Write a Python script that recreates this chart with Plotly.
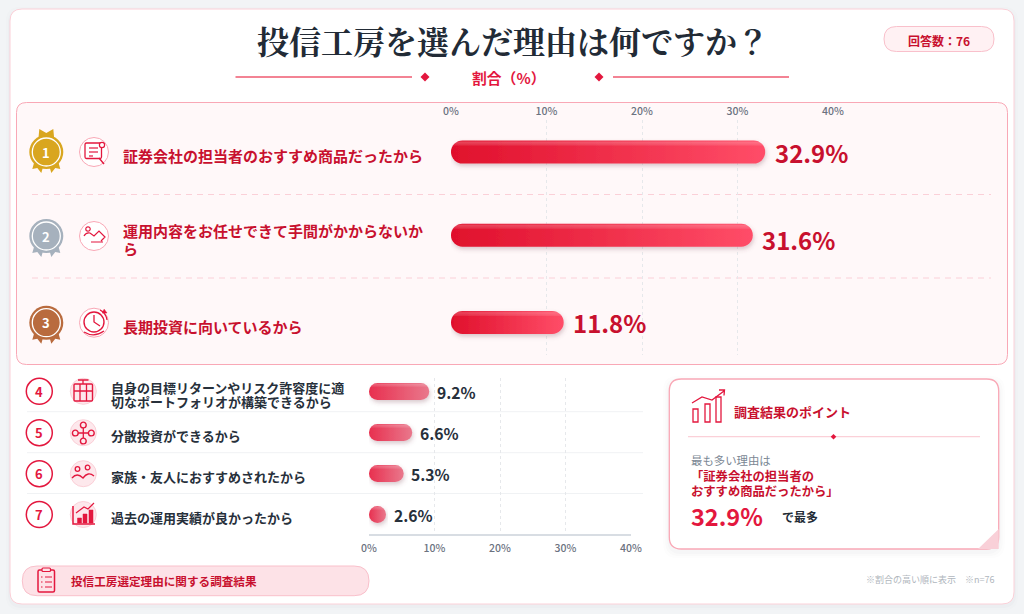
import plotly.graph_objects as go

W, H = 1024, 614

# data
top_labels = ["証券会社の担当者のおすすめ商品だったから", "運用内容をお任せできて手間がかからないか<br>ら", "長期投資に向いているから"]
top_values = [32.9, 31.6, 11.8]
rest_labels = ["自身の目標リターンやリスク許容度に適<br>切なポートフォリオが構築できるから", "分散投資ができるから", "家族・友人におすすめされたから", "過去の運用実績が良かったから"]
rest_values = [9.2, 6.6, 5.3, 2.6]
rest_ranks = ["4", "5", "6", "7"]
tick_vals = [0, 10, 20, 30, 40]
tick_text = ["0%", "10%", "20%", "30%", "40%"]

SANS = "Noto Sans CJK JP"
RED = "#e3173e"
DEEP = "#c8102e"
PINK = "#f9a8b6"
PALE = "#fbd0d8"
INK = "#27303b"

shapes = []
notes = []


def path(d, fill="rgba(0,0,0,0)", line=RED, width=1.2, dash=None, layer="below"):
    shapes.append(dict(type="path", xref="x", yref="y", path=d, fillcolor=fill, layer=layer,
                       line=dict(color=line, width=width, dash=dash)))


def rrect(x0, y0, x1, y1, r):
    return (f"M{x0+r},{y0} L{x1-r},{y0} Q{x1},{y0} {x1},{y0+r} L{x1},{y1-r} Q{x1},{y1} {x1-r},{y1} "
            f"L{x0+r},{y1} Q{x0},{y1} {x0},{y1-r} L{x0},{y0+r} Q{x0},{y0} {x0+r},{y0} Z")


def box(x0, y0, x1, y1, r, fill, line, width=1):
    path(rrect(x0, y0, x1, y1, r), fill=fill, line=line, width=width)


def circ(cx, cy, r, fill="rgba(0,0,0,0)", line=RED, width=1.2):
    shapes.append(dict(type="circle", xref="x", yref="y", x0=cx-r, x1=cx+r, y0=cy-r, y1=cy+r,
                       fillcolor=fill, layer="below", line=dict(color=line, width=width)))


def poly(cx, cy, pts, **kw):
    path("M" + " L".join(f"{cx+a},{cy+b}" for a, b in pts), **kw)


def diamond(cx, cy, r):
    path(f"M{cx-r},{cy} L{cx},{cy-r} L{cx+r},{cy} L{cx},{cy+r} Z", fill=RED, line=RED, width=0)


def txt(x, y, s, size, color=INK, weight=400, anchor="left", family=SANS):
    notes.append(dict(xref="x", yref="y", x=x, y=y, text=s, showarrow=False, xanchor=anchor, yanchor="middle",
                      align=anchor, borderpad=0, font=dict(family=family, size=size, color=color, weight=weight)))


# page background card
for grow, alpha in [(4, 0.012), (2, 0.02)]:
    box(10-grow, 9-grow+2, 1014+grow, 604+grow+2, 14, f"rgba(60,70,90,{alpha})", "rgba(0,0,0,0)", 0)
box(10, 9, 1014, 604, 12, "#ffffff", PALE, 1)

# header
txt(512.5, 39.5, "投信工房を選んだ理由は何ですか？", 32, "#222b36", 700, "center", "Noto Serif CJK JP, " + SANS)
box(884, 26.5, 994, 51.5, 12.5, "#fff1f3", "#f9c0cb", 1)
txt(939, 40, "回答数：76", 12, DEEP, 700, "center")
path("M235.5,77 L412,77", line="#ef5a70", width=1.5)
path("M613,77 L789,77", line="#ef5a70", width=1.5)
diamond(425, 77, 4.5)
diamond(599, 77, 4.5)
txt(508, 77.5, "割合（%）", 14.8, RED, 700, "center")

# top panel
box(16.5, 102.5, 1007.5, 364.5, 10, "#fff8f9", PINK, 1)
path("M32,194.5 L991,194.5", line=PALE, width=1, dash="6px,5px")
path("M32,278 L991,278", line=PALE, width=1, dash="6px,5px")

# medals
medals = [("#d9a61f", 152), ("#a6b1bd", 236), ("#b96b3e", 322.7)]
for i, (col, cy) in enumerate(medals):
    poly(46.3, cy, [(-12, 10), (-14, 17), (-9, 16), (-5, 21), (-3, 14)], fill=col, line=col, width=0)
    poly(46.3, cy, [(12, 10), (14, 17), (9, 16), (5, 21), (3, 14)], fill=col, line=col, width=0)
    if i == 0:
        poly(46.3, cy, [(-8, -12), (-7, -23), (0, -19), (7, -23), (8, -12)], fill=col, line=col, width=0)
    circ(46.3, cy, 17, fill=col, line=col, width=0)
    circ(46.3, cy, 14, fill=col, line="#ffffff", width=1.3)
    txt(46.3, cy, str(i + 1), 13, "#ffffff", 700, "center")
    circ(94, cy, 14.5, fill="#ffffff", line=PINK, width=1)

# icon 1: document and magnifier
box(85, 143, 101.5, 158.5, 1.5, "rgba(0,0,0,0)", RED, 1.3)
for y, end in [(148, 98), (152, 98), (156, 93)]:
    path(f"M89,{y} L{end},{y}", width=1.2)
circ(102, 145, 2.6, fill="#ffffff")
path("M99,158 L104,164", width=1.4)
# icon 2: person and hand
circ(88, 229, 2.2)
path("M84,236 Q86,232 90,233 L94,236 L99,231 L105,237 L101,241 M91,242 L103,242", width=1.2)
# icon 3: clock
circ(94, 322, 10, width=1.4)
path("M94,315 L94,322 L100,326", width=1.3)
path("M100,310 Q106,313 107,320 M84,332 Q94,338 104,331", width=1.2)
poly(0, 0, [(104, 309), (107, 313), (102, 313)], fill=RED, width=0.5)

# bottom rows
rest_y = [391.3, 432.7, 473.7, 514.5]
for rank, cy in zip(rest_ranks, rest_y):
    circ(39.3, cy, 13, fill="#ffffff", line=RED, width=1.5)
    txt(39.3, cy, rank, 13, RED, 700, "center")
    circ(83.3, cy, 13, fill="#fde8ec", line=PALE, width=1)
for y in [411.7, 452.7, 493.5]:
    path(f"M27,{y} L643,{y}", line="#f0f2f4", width=1)

# icon 4: grid box
box(74, 384, 92.5, 401, 1, "rgba(0,0,0,0)", RED, 1.4)
path("M74,391 L92.5,391 M80,384 L80,401 M86.5,384 L86.5,401 M78,380 L88.5,380 M83,380 L83,384", width=1.3)
# icon 5: hub
path("M83.3,425 L83.3,441 M76,433 L91,433", width=1.3)
for dx, dy in [(0, -8), (0, 8), (-8, 0), (8, 0)]:
    circ(83.3 + dx, 433 + dy, 2.9, fill="#fde8ec", width=1.4)
# icon 6: people
circ(77.5, 469, 2.3, width=1.3)
circ(87.6, 467.5, 2.3, width=1.3)
path("M72,478 Q77,472 83,478 Q88,471 94,476", width=1.3)
# icon 7: bar chart
path("M73,506 L73,524 L95,524", width=1.5)
for x0, y0 in [(77.5, 518), (83, 514), (89, 510)]:
    path(f"M{x0},{y0} L{x0+4},{y0} L{x0+4},{523} L{x0},{523} Z", fill=RED, width=0.5)
path("M76,513 L84,507 L88,509 L94,503", width=1.2)

# footer pill
box(22.3, 566, 369, 595.7, 14.8, "#fde2e7", "#f9c0cb", 1)
box(38, 570, 54.5, 592, 1.5, "rgba(0,0,0,0)", RED, 1.5)
box(42, 568, 50.5, 571.5, 1, "#fde2e7", RED, 1.2)
for y in [577, 582, 587]:
    path(f"M41,{y} L42.5,{y} M45,{y} L52,{y}", width=1.2)
txt(69.5, 581, "投信工房選定理由に関する調査結果", 11.6, DEEP, 700)

# point card
for grow, alpha in [(6, 0.012), (4, 0.015), (2, 0.02)]:
    box(669.3-grow, 379-grow+3, 998.7+grow, 549+grow+3, 14, f"rgba(60,70,90,{alpha})", "rgba(0,0,0,0)", 0)
box(669.3, 379, 998.7, 549, 12, "#ffffff", PINK, 1.3)
path("M978,549 L998.7,549 L998.7,529 Z", fill="#f9d0d8", line="#f9d0d8", width=0)
for x0, x1, y0 in [(693, 698, 409), (705, 710, 404), (716, 721, 397)]:
    path(f"M{x0},{y0} L{x1},{y0} L{x1},422 L{x0},422 Z", width=1.3)
path("M692,403 L702,397 L712,400 L724,391 M719,390 L724.5,390 L724,395.5", width=1.3)
txt(733, 411, "調査結果のポイント", 13, DEEP, 700)
path("M688,436.7 L980,436.7", line=PALE, width=1.2)
diamond(833.5, 436.7, 2.8)
txt(690, 459.5, "最も多い理由は", 11.4, "#7b8794", 400)
txt(690, 484, "「証券会社の担当者の<br>おすすめ商品だったから」", 12.3, DEEP, 700)
txt(690, 515.5, "32.9%", 23.5, RED, 700)
txt(781, 516, "で最多", 12, "#222b36", 700)
txt(995, 579.5, "※割合の高い順に表示　※n=76", 9, "#b0b6bd", 400, "right")

# labels for the bar rows
top_label_y = [155.3, 240.75, 326]
for lab, y in zip(top_labels, top_label_y):
    txt(122, y, lab, 15, DEEP, 700)
rest_label_y = [396.4, 435.7, 476, 517]
for lab, y in zip(rest_labels, rest_label_y):
    txt(110, y, lab, 13, INK, 700)

fig = go.Figure()
top_pitch, rest_pitch = 85.2, 41
top_names = [lab.replace("<br>", "") for lab in top_labels]
rest_names = [lab.replace("<br>", "") for lab in rest_labels]
bar_top = 23 / top_pitch

fig.add_trace(go.Bar(
    x=top_values, y=top_names, orientation="h", xaxis="x2", yaxis="y2",
    width=bar_top, offset=[-bar_top / 2, -bar_top / 2 - 2 / top_pitch, -bar_top / 2],
    marker=dict(color=RED, cornerradius=11, line=dict(width=0)), showlegend=False,
))
fig.add_trace(go.Bar(
    x=rest_values, y=rest_names, orientation="h", xaxis="x3", yaxis="y3", width=17 / rest_pitch,
    marker=dict(color="#e8405c", cornerradius=8.5, line=dict(width=0)), showlegend=False,
))

# value labels follow the bars
for v, name, shift in zip(top_values, top_names, [0, -2, 0]):
    notes.append(dict(xref="x2", yref="y2", x=v, y=name, text=f"{v}%", showarrow=False, xanchor="left", yanchor="middle",
                      xshift=8.5, yshift=shift, borderpad=0, font=dict(family=SANS, size=24, color=DEEP, weight=700)))
for v, name in zip(rest_values, rest_names):
    notes.append(dict(xref="x3", yref="y3", x=v, y=name, text=f"{v}%", showarrow=False, xanchor="left", yanchor="middle",
                      xshift=6.5, yshift=-1, borderpad=0, font=dict(family=SANS, size=15.7, color=INK, weight=700)))


def vert(y_px):
    return 1 - y_px / H


fig.update_layout(
    width=W, height=H, autosize=False, margin=dict(l=0, r=0, t=0, b=0),
    paper_bgcolor="#f2f4f6", plot_bgcolor="rgba(0,0,0,0)", barmode="overlay",
    font=dict(family=SANS), shapes=shapes, annotations=notes,
    xaxis=dict(domain=[0, 1], range=[0, W], visible=False, fixedrange=True, automargin=False),
    yaxis=dict(domain=[0, 1], range=[H, 0], visible=False, fixedrange=True, automargin=False),
    xaxis2=dict(domain=[451 / W, 833 / W], range=[0, 40], anchor="y2", side="top", automargin=False,
                tickvals=tick_vals, ticktext=tick_text, showgrid=True, gridcolor="#e6e8eb",
                griddash="3px,3px", zeroline=False, showline=False, ticks="", ticklabelstandoff=2,
                tickfont=dict(size=10.5, color="#6b7280", family=SANS, weight=500)),
    yaxis2=dict(domain=[vert(355), vert(120)], range=[(355 - 152) / top_pitch, (120 - 152) / top_pitch],
                type="category", categoryorder="array", categoryarray=top_names, anchor="x2", automargin=False,
                showticklabels=False, showgrid=False, zeroline=False, ticks=""),
    xaxis3=dict(domain=[369 / W, 631 / W], range=[0, 40], anchor="y3", side="bottom", automargin=False,
                tickvals=tick_vals, ticktext=tick_text, showgrid=True, gridcolor="#e6e8eb",
                griddash="3px,3px", zeroline=False, showline=True, linecolor="#d8dde3", linewidth=2, ticks="",
                ticklabelstandoff=3, tickfont=dict(size=10.5, color="#6b7280", family=SANS, weight=500)),
    yaxis3=dict(domain=[vert(534), vert(378)], range=[(534 - 391.4) / rest_pitch, (378 - 391.4) / rest_pitch],
                type="category", categoryorder="array", categoryarray=rest_names, anchor="x3", automargin=False,
                showticklabels=False, showgrid=False, zeroline=False, ticks=""),
)

# plotly bars have no gradient fill and round only one end, so finish them after the plot is drawn
post = """
document.body.style.margin = '0';
document.documentElement.style.overflow = 'hidden';
var gd = document.getElementById('{plot_id}');
var svg = gd.querySelector('.main-svg');
var NS = 'http://www.w3.org/2000/svg';
var defs = document.createElementNS(NS, 'defs');
function grad(id, x2, y2, stops) {
  var g = document.createElementNS(NS, 'linearGradient');
  g.setAttribute('id', id); g.setAttribute('x1', '0'); g.setAttribute('y1', '0');
  g.setAttribute('x2', x2); g.setAttribute('y2', y2);
  stops.forEach(function (s) {
    var e = document.createElementNS(NS, 'stop');
    e.setAttribute('offset', s[0]); e.setAttribute('stop-color', s[1]); e.setAttribute('stop-opacity', s[2]);
    g.appendChild(e);
  });
  defs.appendChild(g);
}
grad('barTop', 1, 0, [[0, '#e0102c', 1], [1, '#ff4d68', 1]]);
grad('barRest', 1, 0, [[0, '#e8304f', 1], [1, '#e9788c', 1]]);
grad('shine', 0, 1, [[0, '#ffffff', 0], [0.08, '#ffffff', 0.2], [0.2, '#ffffff', 0.1], [0.24, '#ffffff', 0], [1, '#ffffff', 0]]);
var f = document.createElementNS(NS, 'filter');
f.setAttribute('id', 'barShadow'); f.setAttribute('x', '-10%'); f.setAttribute('y', '-30%');
f.setAttribute('width', '120%'); f.setAttribute('height', '180%');
var d = document.createElementNS(NS, 'feDropShadow');
d.setAttribute('dx', '1'); d.setAttribute('dy', '2.5'); d.setAttribute('stdDeviation', '2');
d.setAttribute('flood-color', '#7a4050'); d.setAttribute('flood-opacity', '0.28');
f.appendChild(d); defs.appendChild(f); svg.appendChild(defs);
gd.querySelectorAll('.barlayer .trace').forEach(function (t, i) {
  t.querySelectorAll('.point path').forEach(function (p) {
    var b = p.getBBox(), r = b.height / 2, x0 = b.x, x1 = b.x + Math.max(b.width, b.height), y0 = b.y, y1 = b.y + b.height;
    p.setAttribute('d', 'M' + (x0 + r) + ',' + y0 + 'H' + (x1 - r) + 'A' + r + ',' + r + ' 0 0 1 ' + (x1 - r) + ',' + y1 +
      'H' + (x0 + r) + 'A' + r + ',' + r + ' 0 0 1 ' + (x0 + r) + ',' + y0 + 'Z');
    p.style.fill = 'url(#' + (i === 0 ? 'barTop' : 'barRest') + ')';
    p.style.filter = 'url(#barShadow)';
    var c = p.cloneNode(true);
    c.style.fill = 'url(#shine)'; c.style.filter = 'none';
    p.parentNode.appendChild(c);
  });
});
// tighter line spacing on the wrapped labels
gd.querySelectorAll('.annotation-text').forEach(function (t) {
  var lines = t.querySelectorAll('tspan.line');
  if (lines.length > 1) {
    var size = parseFloat(t.style.fontSize);
    lines[1].setAttribute('dy', size < 13.5 && size > 12.5 ? '1.08em' : '1.21em');
  }
});
"""

fig.write_html("out.html", post_script=post, config=dict(displayModeBar=False))
